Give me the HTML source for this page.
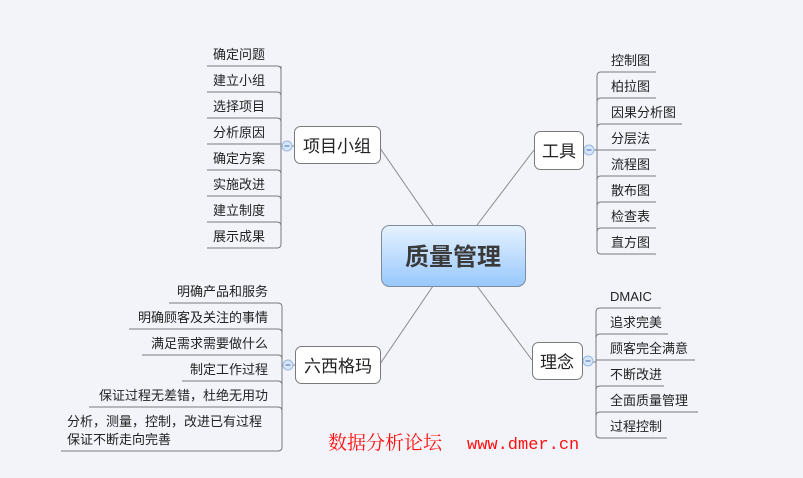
<!DOCTYPE html>
<html><head><meta charset="utf-8"><style>
html,body{margin:0;padding:0;background:#f2f4f9;}
svg{display:block}
text{font-family:"Liberation Sans","Noto Sans CJK SC",sans-serif;fill:#222;}
</style></head><body>
<svg width="803" height="478" viewBox="0 0 803 478" xmlns="http://www.w3.org/2000/svg">
<defs>
<linearGradient id="g" x1="0" y1="0" x2="0" y2="1">
<stop offset="0" stop-color="#e6f2ff"/><stop offset="1" stop-color="#98c8fc"/>
</linearGradient>
</defs>
<g stroke="#8a8a8a" stroke-width="1" fill="none">
<line x1="380" y1="148" x2="433" y2="225"/>
<line x1="534" y1="150" x2="477" y2="225"/>
<line x1="380" y1="364" x2="433" y2="286"/>
<line x1="532" y1="360" x2="477" y2="286"/>
</g>
<g stroke="#7a7a7a" stroke-width="1" fill="none">
<path d="M281 66 L281 244 Q281 248 277 248 L207 248"/>
<path d="M207 66 L277 66 Q281 66 281 70"/>
<path d="M207 92 L277 92 Q281 92 281 96"/>
<path d="M207 118 L277 118 Q281 118 281 122"/>
<path d="M207 144 L281 144"/>
<path d="M207 170 L277 170 Q281 170 281 174"/>
<path d="M207 196 L277 196 Q281 196 281 200"/>
<path d="M207 222 L277 222 Q281 222 281 226"/>
<line x1="281" y1="146" x2="294" y2="146"/>
<path d="M597 76 Q597 72 601 72 L656 72"/>
<path d="M597 76 L597 250 Q597 254 601 254 L656 254"/>
<path d="M597 102 Q597 98 601 98 L656 98"/>
<path d="M597 128 Q597 124 601 124 L682 124"/>
<path d="M597 150 L656 150"/>
<path d="M597 180 Q597 176 601 176 L656 176"/>
<path d="M597 206 Q597 202 601 202 L656 202"/>
<path d="M597 232 Q597 228 601 228 L656 228"/>
<line x1="583" y1="150" x2="597" y2="150"/>
<path d="M596 312 Q596 308 600 308 L661 308"/>
<path d="M596 312 L596 434 Q596 438 600 438 L667 438"/>
<path d="M596 338 Q596 334 600 334 L668 334"/>
<path d="M596 360 L695 360"/>
<path d="M596 390 Q596 386 600 386 L664 386"/>
<path d="M596 416 Q596 412 600 412 L698 412"/>
<line x1="582" y1="362" x2="596" y2="362"/>
<path d="M169 303 L278 303 Q282 303 282 307"/>
<path d="M282 307 L282 447 Q282 451 278 451 L61 451"/>
<path d="M129 329 L278 329 Q282 329 282 333"/>
<path d="M142 355 L278 355 Q282 355 282 359"/>
<path d="M182 381 L278 381 Q282 381 282 385"/>
<path d="M89 407 L278 407 Q282 407 282 411"/>
<line x1="282" y1="365" x2="295" y2="365"/>
</g>
<g fill="#d6e6fb" stroke="#9ab8e0">
<circle cx="287" cy="146" r="5"/>
<circle cx="589" cy="150" r="5"/>
<circle cx="588" cy="361" r="5"/>
<circle cx="288" cy="365" r="5"/>
</g>
<g stroke="#4a6ea8" stroke-width="1">
<line x1="284.5" y1="146" x2="289.5" y2="146"/>
<line x1="586.5" y1="150" x2="591.5" y2="150"/>
<line x1="585.5" y1="361" x2="590.5" y2="361"/>
<line x1="285.5" y1="365" x2="290.5" y2="365"/>
</g>
<g fill="#fff" stroke="#7a7a7a">
<rect x="294.5" y="126.5" width="86" height="37" rx="6"/>
<rect x="534.5" y="131.5" width="49" height="38" rx="6"/>
<rect x="532.5" y="342.5" width="50" height="37" rx="6"/>
<rect x="295.5" y="346.5" width="85" height="37" rx="6"/>
</g>
<rect x="381.5" y="225.5" width="144" height="61" rx="8" fill="url(#g)" stroke="#7f8c9c"/>
<text x="453" y="265" font-size="24" font-weight="bold" text-anchor="middle" style="fill:#3a3a3a">质量管理</text>
<g font-size="17">
<text x="337" y="152" text-anchor="middle">项目小组</text>
<text x="559" y="157" text-anchor="middle">工具</text>
<text x="557" y="368" text-anchor="middle">理念</text>
<text x="338" y="372" text-anchor="middle">六西格玛</text>
</g>
<g font-size="13">
<text x="213" y="59">确定问题</text>
<text x="213" y="85">建立小组</text>
<text x="213" y="111">选择项目</text>
<text x="213" y="137">分析原因</text>
<text x="213" y="163">确定方案</text>
<text x="213" y="189">实施改进</text>
<text x="213" y="215">建立制度</text>
<text x="213" y="241">展示成果</text>
<text x="611" y="65">控制图</text>
<text x="611" y="91">柏拉图</text>
<text x="611" y="117">因果分析图</text>
<text x="611" y="143">分层法</text>
<text x="611" y="169">流程图</text>
<text x="611" y="195">散布图</text>
<text x="611" y="221">检查表</text>
<text x="611" y="247">直方图</text>
<text x="610" y="301">DMAIC</text>
<text x="610" y="327">追求完美</text>
<text x="610" y="353">顾客完全满意</text>
<text x="610" y="379">不断改进</text>
<text x="610" y="405">全面质量管理</text>
<text x="610" y="431">过程控制</text>
<g text-anchor="end">
<text x="268" y="296">明确产品和服务</text>
<text x="268" y="322">明确顾客及关注的事情</text>
<text x="268" y="348">满足需求需要做什么</text>
<text x="268" y="374">制定工作过程</text>
<text x="268" y="400">保证过程无差错，杜绝无用功</text>
</g>
<text x="67" y="426">分析，测量，控制，改进已有过程</text>
<text x="67" y="444">保证不断走向完善</text>
</g>
<text x="328" y="449" font-size="19" style="fill:#ff1010;font-family:'Noto Serif CJK SC',serif">数据分析论坛</text>
<text x="467" y="449" font-size="17" style="fill:#ff1010;font-family:'Liberation Mono',monospace">www.dmer.cn</text>
</svg>
</body></html>
